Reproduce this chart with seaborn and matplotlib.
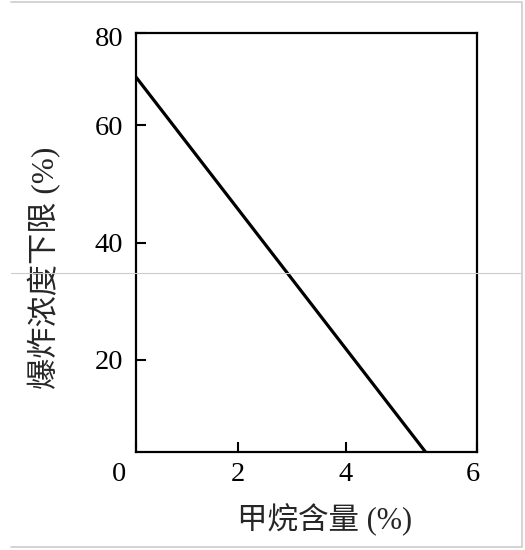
import matplotlib
matplotlib.use('Agg')
import matplotlib.pyplot as plt
from matplotlib.lines import Line2D
from matplotlib.transforms import ScaledTranslation
import pandas as pd
import seaborn as sns

# methane content (%) vs lower explosive limit (%), visible ends of the line
methane = [0.1, 5.49]
lower_limit = [68.2, 4.3]

x_ticks = [0.1, 2, 4, 6.45]
x_tick_labels = ['0', '2', '4', '6']
y_ticks = [20, 40, 60, 75.7]
y_tick_labels = ['20', '40', '60', '80']

sns.set_style('ticks')
plt.rcParams['font.family'] = ['Liberation Serif', 'Noto Sans CJK SC']
plt.rcParams['axes.unicode_minus'] = False

df = pd.DataFrame({'x': methane, 'y': lower_limit})

fig = plt.figure(figsize=(5.25, 5.5), dpi=100)
ax = fig.add_axes([0.259, 0.178, 0.650, 0.762])

sns.lineplot(data=df, x='x', y='y', color='black', linewidth=2.3, ax=ax)

ax.set_xlim(0.1, 6.45)
ax.set_ylim(4.3, 75.7)
ax.set_xticks(x_ticks)
ax.set_xticklabels(x_tick_labels)
ax.set_yticks(y_ticks)
ax.set_yticklabels(y_tick_labels)
ax.tick_params(direction='in', length=7.5, width=1.5, labelsize=20.5, colors='black')
ax.tick_params(axis='x', pad=7)
ax.tick_params(axis='y', pad=9)

# edge labels sit a little off the corners in the original
def nudge(label, dx, dy):
    label.set_transform(label.get_transform() + ScaledTranslation(dx / 100, dy / 100, fig.dpi_scale_trans))

xl = ax.get_xticklabels()
nudge(xl[0], -17, 0)
nudge(xl[3], -4, 0)
yl = ax.get_yticklabels()
nudge(yl[3], 0, -4)

for s in ax.spines.values():
    s.set_visible(True)
    s.set_linewidth(1.6)
    s.set_color('black')

cjk = ['Liberation Serif', 'Noto Sans CJK SC']
ax.set_xlabel('甲烷含量 (%)', fontsize=22, labelpad=12, family=cjk)
ax.set_ylabel('爆炸浓度下限 (%)', fontsize=22.5, labelpad=24, family=cjk)
ax.xaxis.label.set_x(0.554)
ax.yaxis.label.set_y(0.439)

# faint scan line and page border
grey = '#cccccc'
fig.add_artist(Line2D([0.02, 0.99], [0.5036, 0.5036], transform=fig.transFigure,
                      color=grey, linewidth=0.8))
fig.add_artist(Line2D([0.02, 0.994, 0.994, 0.02], [0.997, 0.997, 0.005, 0.005],
                      transform=fig.transFigure, color=grey, linewidth=1.2))

fig.savefig('out.png', dpi=100)
